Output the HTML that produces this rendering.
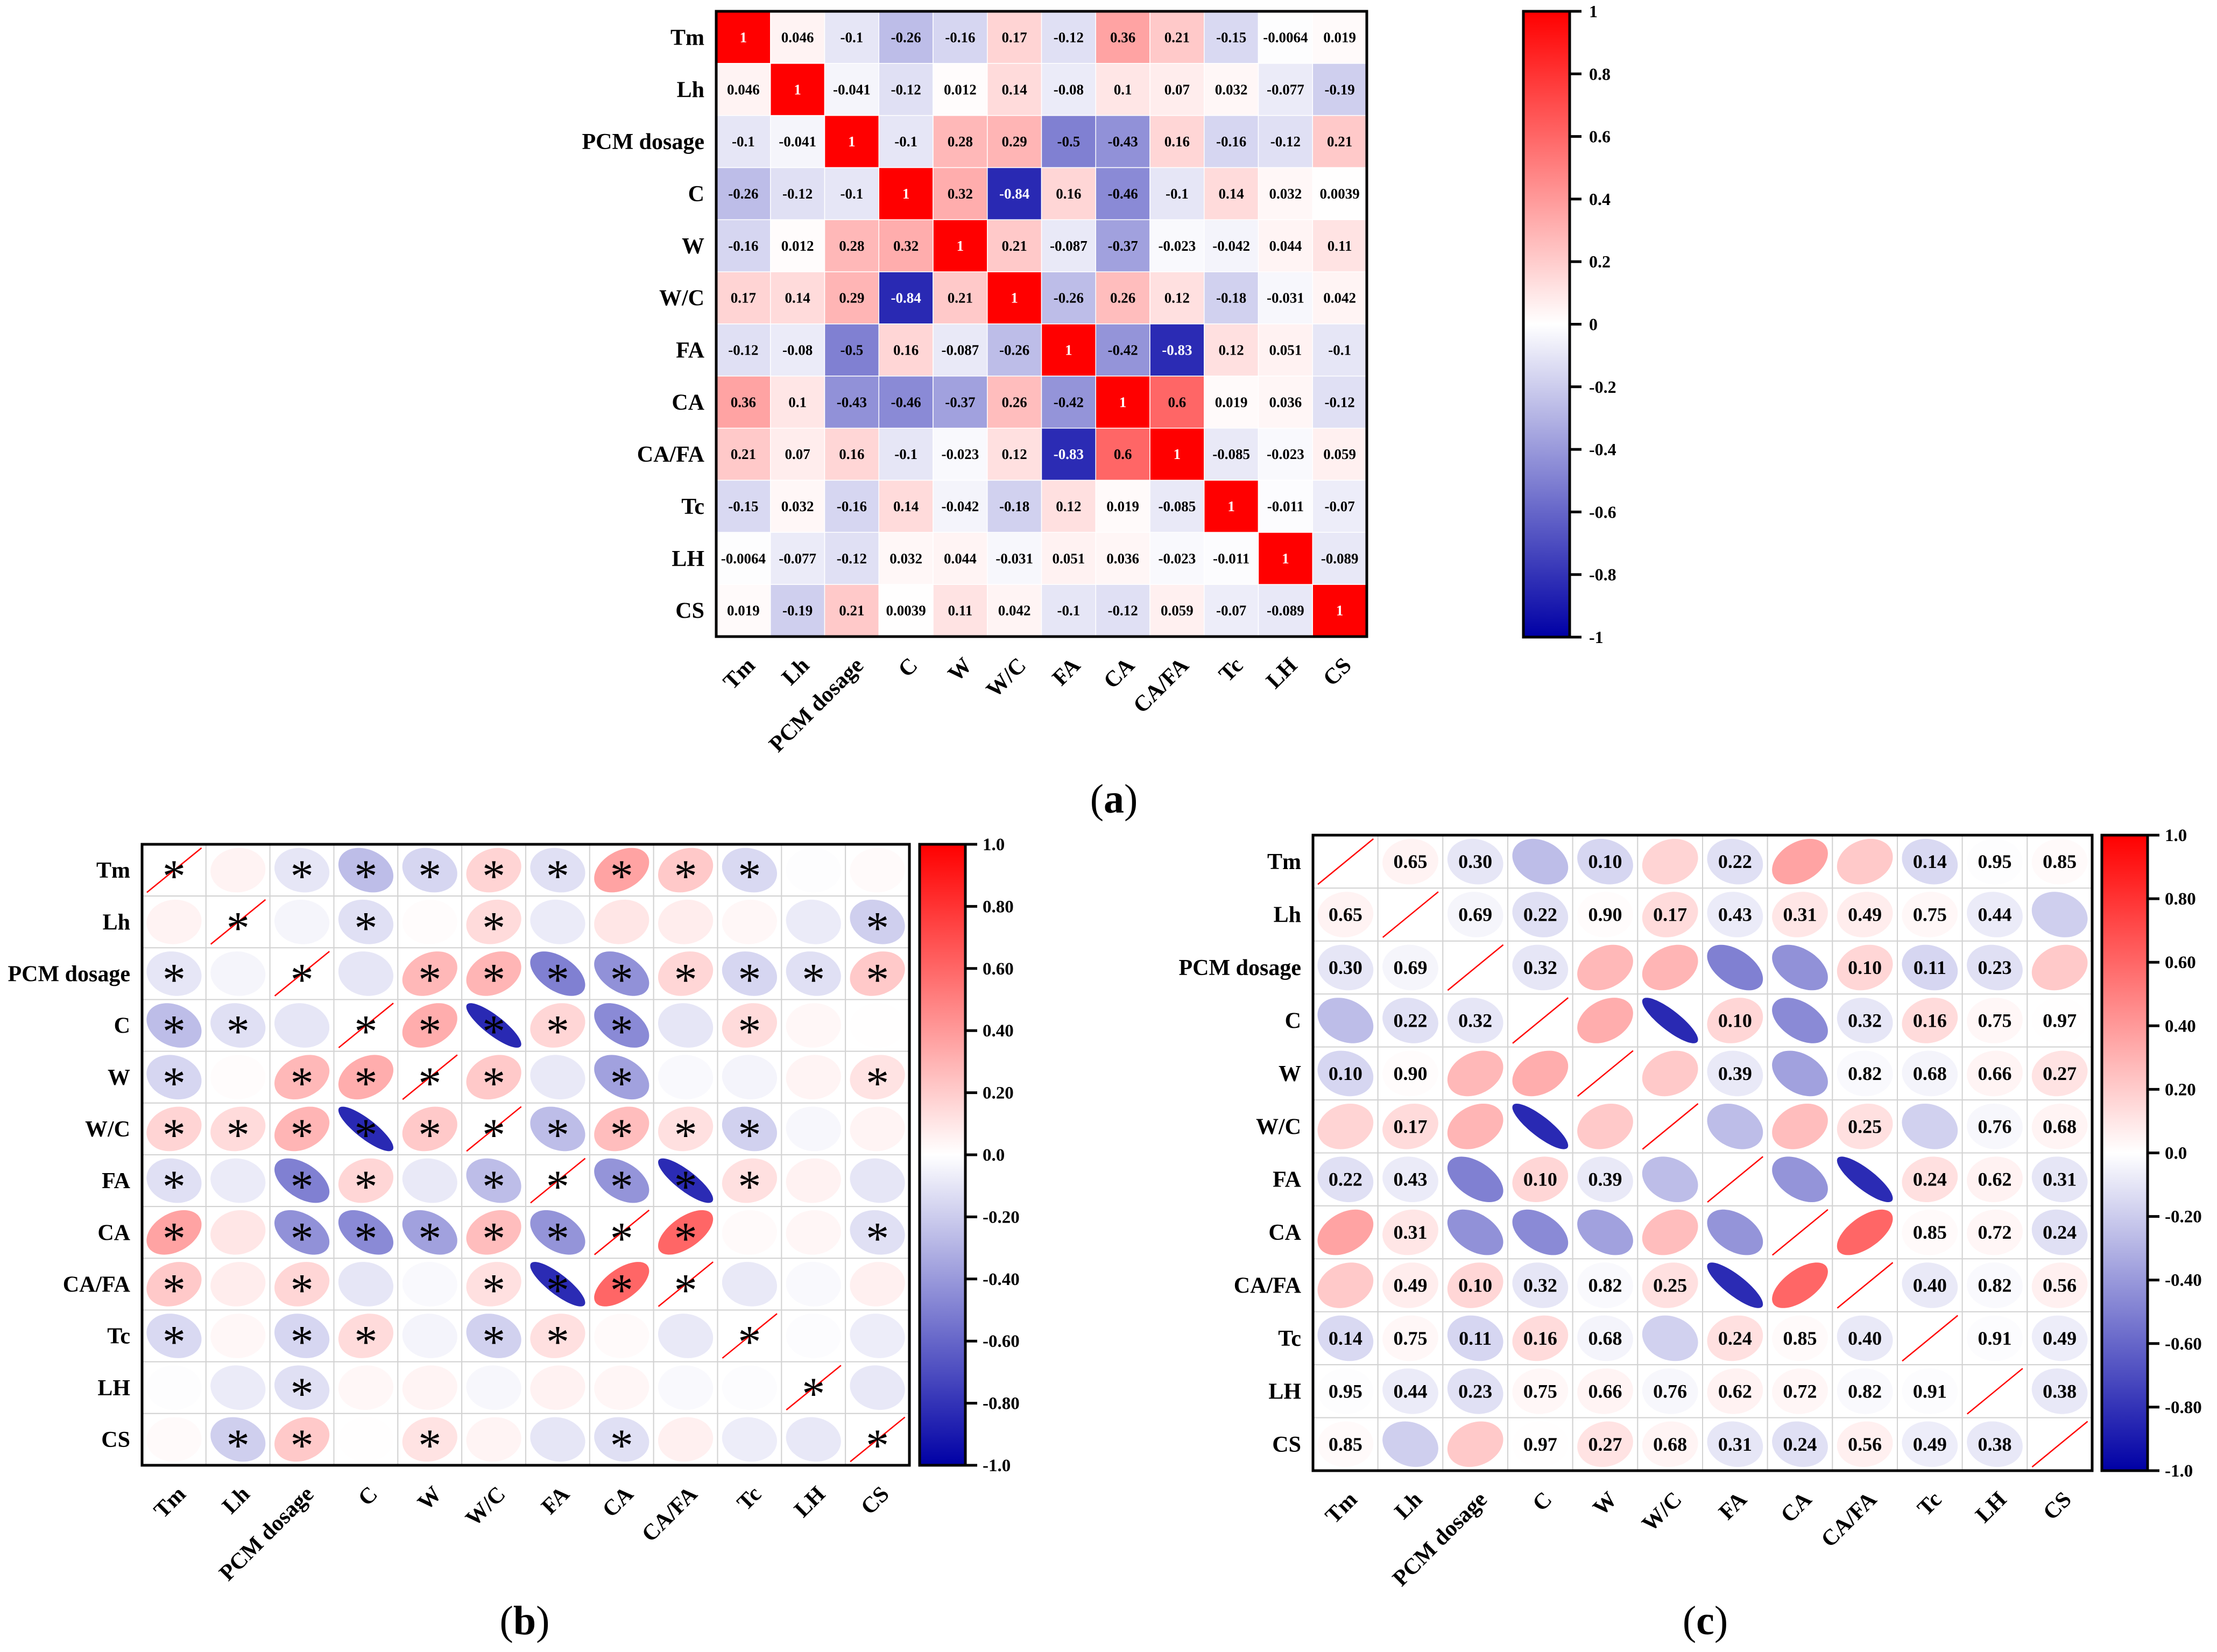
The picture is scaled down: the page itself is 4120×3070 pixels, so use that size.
<!DOCTYPE html>
<html><head><meta charset="utf-8">
<style>
html,body{margin:0;padding:0;background:#fff;}
svg{display:block;}
text{font-family:"Liberation Serif","Times New Roman",serif;}
</style></head>
<body>
<svg id="fig" xmlns="http://www.w3.org/2000/svg" width="4120" height="3070" viewBox="0 0 4120 3070" font-family="Liberation Serif, Times New Roman, serif" font-weight="bold"></svg>
<script>
const labels = ["Tm","Lh","PCM dosage","C","W","W/C","FA","CA","CA/FA","Tc","LH","CS"];
const rowTm   = [1,0.046,-0.1,-0.26,-0.16,0.17,-0.12,0.36,0.21,-0.15,-0.0064,0.019];
const rowLh   = [0.046,1,-0.041,-0.12,0.012,0.14,-0.08,0.1,0.07,0.032,-0.077,-0.19];
const rowPCM  = [-0.1,-0.041,1,-0.1,0.28,0.29,-0.5,-0.43,0.16,-0.16,-0.12,0.21];
const rowC    = [-0.26,-0.12,-0.1,1,0.32,-0.84,0.16,-0.46,-0.1,0.14,0.032,0.0039];
const rowW    = [-0.16,0.012,0.28,0.32,1,0.21,-0.087,-0.37,-0.023,-0.042,0.044,0.11];
const rowWC   = [0.17,0.14,0.29,-0.84,0.21,1,-0.26,0.26,0.12,-0.18,-0.031,0.042];
const rowFA   = [-0.12,-0.08,-0.5,0.16,-0.087,-0.26,1,-0.42,-0.83,0.12,0.051,-0.1];
const rowCA   = [0.36,0.1,-0.43,-0.46,-0.37,0.26,-0.42,1,0.6,0.019,0.036,-0.12];
const rowCAFA = [0.21,0.07,0.16,-0.1,-0.023,0.12,-0.83,0.6,1,-0.085,-0.023,0.059];
const rowTc   = [-0.15,0.032,-0.16,0.14,-0.042,-0.18,0.12,0.019,-0.085,1,-0.011,-0.07];
const rowLH   = [-0.0064,-0.077,-0.12,0.032,0.044,-0.031,0.051,0.036,-0.023,-0.011,1,-0.089];
const rowCS   = [0.019,-0.19,0.21,0.0039,0.11,0.042,-0.1,-0.12,0.059,-0.07,-0.089,1];
const corr = [rowTm,rowLh,rowPCM,rowC,rowW,rowWC,rowFA,rowCA,rowCAFA,rowTc,rowLH,rowCS];

const stars = [
 [1,0,1,1,1,1,1,1,1,1,0,0],
 [0,1,0,1,0,1,0,0,0,0,0,1],
 [1,0,1,0,1,1,1,1,1,1,1,1],
 [1,1,0,1,1,1,1,1,0,1,0,0],
 [1,0,1,1,1,1,0,1,0,0,0,1],
 [1,1,1,1,1,1,1,1,1,1,0,0],
 [1,0,1,1,0,1,1,1,1,1,0,0],
 [1,0,1,1,1,1,1,1,1,0,0,1],
 [1,0,1,0,0,1,1,1,1,0,0,0],
 [1,0,1,1,0,1,1,0,0,1,0,0],
 [0,0,1,0,0,0,0,0,0,0,1,0],
 [0,1,1,0,1,0,0,1,0,0,0,1]];

const pvals = [
 ["","0.65","0.30","","0.10","","0.22","","","0.14","0.95","0.85"],
 ["0.65","","0.69","0.22","0.90","0.17","0.43","0.31","0.49","0.75","0.44",""],
 ["0.30","0.69","","0.32","","","","","0.10","0.11","0.23",""],
 ["","0.22","0.32","","","","0.10","","0.32","0.16","0.75","0.97"],
 ["0.10","0.90","","","","","0.39","","0.82","0.68","0.66","0.27"],
 ["","0.17","","","","","","","0.25","","0.76","0.68"],
 ["0.22","0.43","","0.10","0.39","","","","","0.24","0.62","0.31"],
 ["","0.31","","","","","","","","0.85","0.72","0.24"],
 ["","0.49","0.10","0.32","0.82","0.25","","","","0.40","0.82","0.56"],
 ["0.14","0.75","0.11","0.16","0.68","","0.24","0.85","0.40","","0.91","0.49"],
 ["0.95","0.44","0.23","0.75","0.66","0.76","0.62","0.72","0.82","0.91","","0.38"],
 ["0.85","","","0.97","0.27","0.68","0.31","0.24","0.56","0.49","0.38",""]];

const ticksA = ["1","0.8","0.6","0.4","0.2","0","-0.2","-0.4","-0.6","-0.8","-1"];
const ticksBC = ["1.0","0.80","0.60","0.40","0.20","0.0","-0.20","-0.40","-0.60","-0.80","-1.0"];
const tickVals = [1,0.8,0.6,0.4,0.2,0,-0.2,-0.4,-0.6,-0.8,-1];

const NS="http://www.w3.org/2000/svg";
const svg=document.getElementById('fig');
const FF="Liberation Serif, Times New Roman, serif";
function mk(tag,attrs,parent){const e=document.createElementNS(NS,tag);for(const k in attrs)e.setAttribute(k,attrs[k]);if(tag==='text'){e.setAttribute('font-family',FF);if(!attrs['font-weight'])e.setAttribute('font-weight','bold');}(parent||svg).appendChild(e);return e;}
function color(r){
  if(r>=0){const g=Math.round(255*(1-r));return `rgb(255,${g},${g})`;}
  const a=-r;const c=Math.round(255*(1-a));const b=Math.round(255-(255-165)*a);return `rgb(${c},${c},${b})`;
}
function ellipsePath(r,cx,cy,rx,ry){
  const d=Math.acos(Math.max(-1,Math.min(1,r)));let p="";
  for(let i=0;i<=72;i++){const t=i/72*2*Math.PI;const x=cx+rx*Math.cos(t+d/2);const y=cy-ry*Math.cos(t-d/2);p+=(i?"L":"M")+x.toFixed(1)+","+y.toFixed(1);}
  return p+"Z";
}

function panel(P){
  const g=mk('g',{});
  
  
  const n=labels.length;const cw=(P.x1-P.x0)/n, ch=(P.y1-P.y0)/n;
  const sx=i=>P.x0+i*cw, sy=j=>P.y0+j*ch;
  for(let i=0;i<n;i++)for(let j=0;j<n;j++){
    const r=corr[i][j];const x=sx(j),y=sy(i);const cx=x+cw/2,cy=y+ch/2;
    if(P.type==='a'){
      const rc=mk('rect',{x:x,y:y,width:cw,height:ch,fill:color(r),stroke:'#fff','stroke-width':1.5},g);
      
      
      const t=mk('text',{x:cx,y:cy+9,'text-anchor':'middle','font-size':27,fill:(Math.abs(r)>0.7)?'#fff':'#000'},g);
      t.textContent=String(r);
      
      
    } else {
      const rc=mk('rect',{x:x,y:y,width:cw,height:ch,fill:'#fff',stroke:'#d2d2d2','stroke-width':2},g);
      
      
      if(i===j){
        const l=mk('line',{x1:x+0.075*cw,y1:y+ch*0.93,x2:x+cw*0.93,y2:y+ch*0.07,stroke:'#ff0000','stroke-width':2.5},g);
        
        
      } else {
        const e=mk('path',{d:ellipsePath(r,cx,cy,cw*0.43,ch*0.43),fill:color(r)},g);
        
        
      }
      if(P.type==='b'&&stars[i][j]){
        const s=mk('text',{x:cx,y:cy+40,'text-anchor':'middle','font-size':86,'font-weight':'normal',fill:'#000'},g);
        s.textContent='*';
        
        
      }
      if(P.type==='c'&&pvals[i][j]){
        const s=mk('text',{x:cx,y:cy+12,'text-anchor':'middle','font-size':36,fill:'#000'},g);
        s.textContent=pvals[i][j];
        
        
      }
    }
  }
  const fr=mk('rect',{x:P.x0,y:P.y0,width:P.x1-P.x0,height:P.y1-P.y0,fill:'none',stroke:'#000','stroke-width':5},g);
  
  
  for(let i=0;i<n;i++){
    const t=mk('text',{x:P.x0-22,y:sy(i)+ch/2+14,'text-anchor':'end','font-size':42},g);
    t.textContent=labels[i];
    
    
    const ax=sx(i)+cw/2+24, ay=P.y1+56;
    const u=mk('text',{x:ax,y:ay,'text-anchor':'end','font-size':42,transform:`rotate(-45 ${ax} ${ay})`},g);
    u.textContent=labels[i];
    
    
  }
  const cb=mk('g',{},g);
  
  
  const gid='grad'+P.type;
  const defs=mk('defs',{},cb);const lg=mk('linearGradient',{id:gid,x1:0,y1:0,x2:0,y2:1},defs);
  for(let k=0;k<=20;k++){const v=1-k/10;mk('stop',{offset:(k/20).toFixed(3),'stop-color':color(v)},lg);}
  mk('rect',{x:P.cx0,y:P.cy0,width:P.cx1-P.cx0,height:P.cy1-P.cy0,fill:`url(#${gid})`,stroke:'#000','stroke-width':5},cb);
  const vy=v=>P.cy0+(1-v)/2*(P.cy1-P.cy0);
  const tl=P.type==='a'?ticksA:ticksBC;
  for(let k=0;k<tickVals.length;k++){
    const y=vy(tickVals[k]);
    mk('line',{x1:P.cx1,y1:y,x2:P.cx1+22,y2:y,stroke:'#000','stroke-width':5},cb);
    const t=mk('text',{x:P.cx1+(P.type==='a'?36:32),y:y+11,'font-size':P.type==='a'?32:33},cb);
    t.textContent=tl[k];
    
    
  }
  const cap=mk('text',{x:P.capx,y:P.capy,'text-anchor':'middle','font-size':76,'font-weight':'normal'},g);
  cap.innerHTML=`(<tspan font-weight="bold">${P.type}</tspan>)`;
  
  
}

panel({name:'panel-a-heatmap',type:'a',x0:1331,x1:2540,y0:21,y1:1183,cx0:2831,cx1:2917,cy0:21,cy1:1184,capx:2070,capy:1510});
panel({name:'panel-b-ellipse-stars',type:'b',x0:264,x1:1690,y0:1569,y1:2723,cx0:1709,cx1:1794,cy0:1569,cy1:2723,capx:975,capy:3037});
panel({name:'panel-c-ellipse-pvalues',type:'c',x0:2440,x1:3888,y0:1552,y1:2733,cx0:3906,cx1:3991,cy0:1552,cy1:2733,capx:3169,capy:3037});
</script>
</body></html>
